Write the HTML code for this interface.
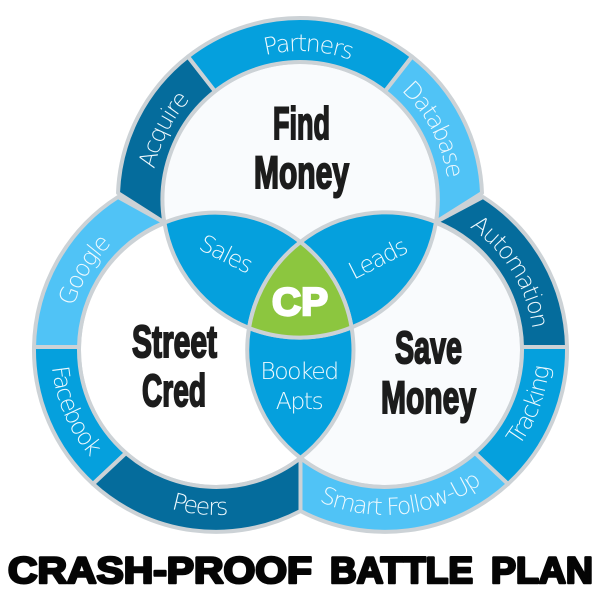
<!DOCTYPE html>
<html><head><meta charset="utf-8"><style>
html,body{margin:0;padding:0;background:#fff}
svg{display:block}
.seg{stroke:#ccd2d6;stroke-width:4;stroke-linejoin:round}
.r{font-family:"DejaVu Sans Light","Liberation Sans",sans-serif;font-size:23.5px;letter-spacing:-1.5px;fill:#eef9fe;text-anchor:middle}
.h{font-family:"Liberation Sans",sans-serif;font-weight:700;font-size:45px;fill:#1c1c1c;stroke:#1c1c1c;stroke-width:2}
.t{font-family:"Liberation Sans",sans-serif;font-weight:700;font-size:37px;fill:#050505;stroke:#050505;stroke-width:2.6;stroke-linejoin:round}
</style></head><body>
<svg width="600" height="600" viewBox="0 0 600 600" xmlns="http://www.w3.org/2000/svg">
<defs>
<path id="c150" d="M-149 0A149 149 0 0 1 149 0"/>
<path id="b165" d="M-165 0A165 165 0 0 0 165 0"/>
</defs>
<rect width="600" height="600" fill="#fff"/>

<circle cx="300" cy="200" r="138" fill="#f9fbfd" stroke="#ccd2d6" stroke-width="4"/>
<circle cx="385" cy="350" r="137" fill="#f9fbfd" stroke="#ccd2d6" stroke-width="4"/>
<circle cx="216" cy="350" r="137" fill="#ffffff" stroke="#ccd2d6" stroke-width="4"/>

<!-- top ring -->
<path class="seg" fill="#056c9c" d="M118 193A182 182 0 0 1 188 56.6L215 91.3A138 138 0 0 0 164.4 222.6Z"/>
<path class="seg" fill="#05a0dd" d="M188 56.6A182 182 0 0 1 412 56.6L385 91.3A138 138 0 0 0 215 91.3Z"/>
<path class="seg" fill="#50c3f6" d="M412 56.6A182 182 0 0 1 482 193L436 222A138 138 0 0 0 385 91.3Z"/>
<!-- left ring -->
<path class="seg" fill="#50c3f6" d="M118 197A182 182 0 0 0 34 347L79 347A137 137 0 0 1 164.4 222.6Z"/>
<path class="seg" fill="#05a0dd" d="M34 347A182 182 0 0 0 93 484L126 453A137 137 0 0 1 79 347Z"/>
<path class="seg" fill="#056c9c" d="M93 484A182 182 0 0 0 300.5 511L300.5 458A137 137 0 0 1 126 453Z"/>
<!-- right ring -->
<path class="seg" fill="#056c9c" d="M483 197A182 182 0 0 1 567 347L522 347A137 137 0 0 0 436 222Z"/>
<path class="seg" fill="#05a0dd" d="M567 347A182 182 0 0 1 508 484L475 453A137 137 0 0 0 522 347Z"/>
<path class="seg" fill="#50c3f6" d="M508 484A182 182 0 0 1 300.5 511L300.5 458A137 137 0 0 0 475 453Z"/>

<!-- lenses -->
<path class="seg" fill="#05a0dd" d="M164.4 222.6A137 137 0 0 1 300.5 242A137 137 0 0 0 249 328A138 138 0 0 1 164.4 222.6Z"/>
<path class="seg" fill="#05a0dd" d="M300.5 242A137 137 0 0 1 436 222A138 138 0 0 1 351.6 327.4A137 137 0 0 0 300.5 242Z"/>
<path class="seg" fill="#05a0dd" d="M249 328A138 138 0 0 0 351.6 327.4A137 137 0 0 1 300.5 458A137 137 0 0 1 249 328Z"/>
<path class="seg" fill="#8cc63f" d="M300.5 242A137 137 0 0 1 351.6 327.4A138 138 0 0 1 249 328A137 137 0 0 1 300.5 242Z"/>

<!-- ring labels -->
<g transform="translate(300,200) rotate(3)"><text class="r"><textPath href="#c150" startOffset="50%">Partners</textPath></text></g>
<g transform="translate(300,200) rotate(-63)"><text class="r"><textPath href="#c150" startOffset="50%">Acquire</textPath></text></g>
<g transform="translate(300,200) rotate(62)"><text class="r"><textPath href="#c150" startOffset="50%">Database</textPath></text></g>
<g transform="translate(216,350) rotate(-59)"><text class="r"><textPath href="#c150" startOffset="50%">Google</textPath></text></g>
<g transform="translate(385,350) rotate(58)"><text class="r"><textPath href="#c150" startOffset="50%">Automation</textPath></text></g>
<g transform="translate(216,350) rotate(67)"><text class="r"><textPath href="#b165" startOffset="50%">Facebook</textPath></text></g>
<g transform="translate(216,350) rotate(6)"><text class="r"><textPath href="#b165" startOffset="50%">Peers</textPath></text></g>
<g transform="translate(385,350) rotate(-69)"><text class="r"><textPath href="#b165" startOffset="50%">Tracking</textPath></text></g>
<g transform="translate(385,350) rotate(-6)"><text class="r"><textPath href="#b165" startOffset="50%">Smart Follow-Up</textPath></text></g>

<!-- lens labels -->
<text class="r" transform="translate(222,261) rotate(27)">Sales</text>
<text class="r" transform="translate(381,266) rotate(-27)">Leads</text>
<text class="r" x="299" y="379">Booked</text>
<text class="r" x="299" y="409">Apts</text>

<!-- headings -->
<text class="h" x="273" y="139" textLength="57" lengthAdjust="spacingAndGlyphs">Find</text>
<text class="h" x="254" y="188" textLength="95" lengthAdjust="spacingAndGlyphs">Money</text>
<text class="h" x="132" y="357" textLength="85" lengthAdjust="spacingAndGlyphs">Street</text>
<text class="h" x="142" y="406" textLength="64" lengthAdjust="spacingAndGlyphs">Cred</text>
<text class="h" x="395" y="363" textLength="67" lengthAdjust="spacingAndGlyphs">Save</text>
<text class="h" x="381" y="413" textLength="95" lengthAdjust="spacingAndGlyphs">Money</text>

<text x="272" y="315" textLength="56" lengthAdjust="spacingAndGlyphs" style="font-family:'Liberation Sans',sans-serif;font-weight:700;font-size:39px;fill:#fff;stroke:#fff;stroke-width:2.4">CP</text>

<text class="t" x="8" y="583" textLength="304" lengthAdjust="spacingAndGlyphs">CRASH-PROOF</text>
<text class="t" x="330" y="583" textLength="143" lengthAdjust="spacingAndGlyphs">BATTLE</text>
<text class="t" x="491" y="583" textLength="102" lengthAdjust="spacingAndGlyphs">PLAN</text>
</svg>
</body></html>
